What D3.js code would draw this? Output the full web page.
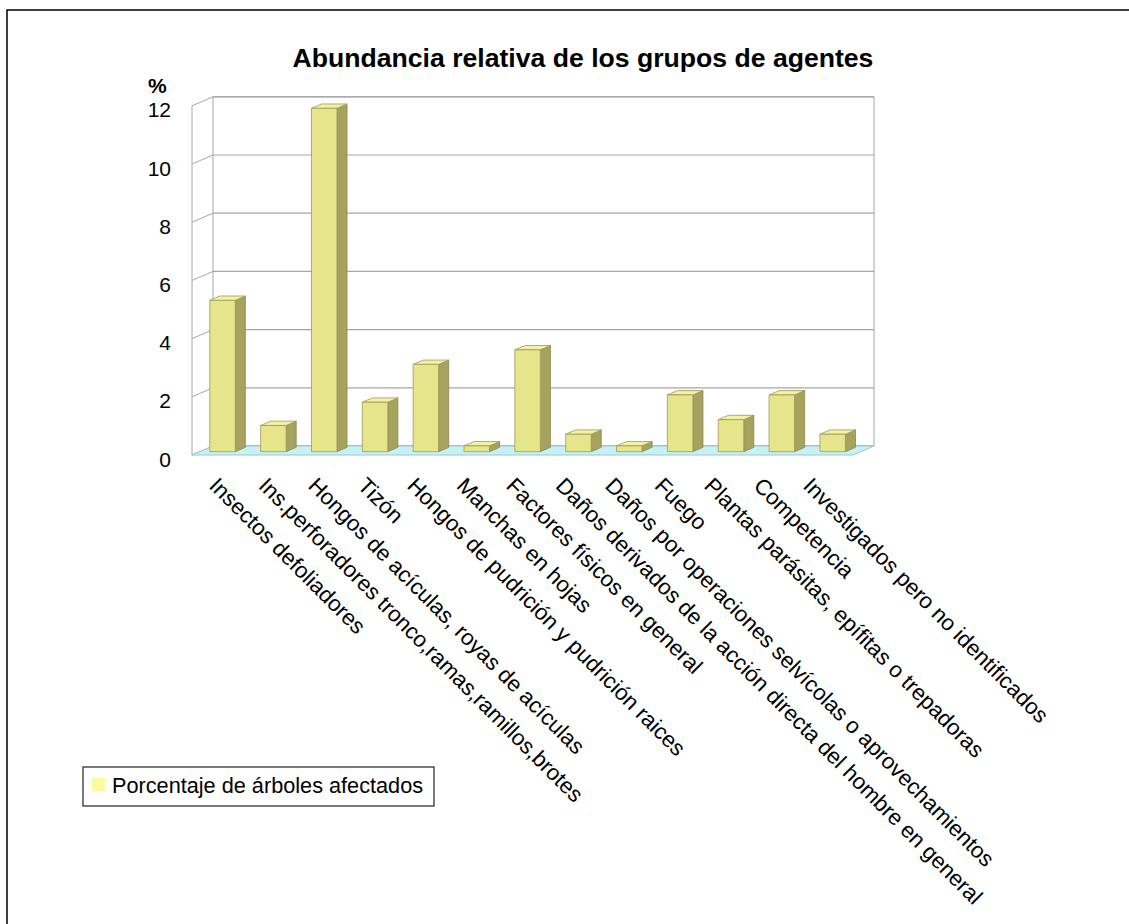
<!DOCTYPE html>
<html>
<head>
<meta charset="utf-8">
<script src="https://cdn.jsdelivr.net/npm/d3@7"></script>
<style>
  html, body { margin: 0; padding: 0; background: #fff; overflow: hidden; }
  svg { display: block; font-family: "Liberation Sans", Arial, sans-serif; }
</style>
</head>
<body>
<svg id="chart" width="1129" height="924"></svg>
<script>
const title = "Abundancia relativa de los grupos de agentes";
const yUnit = "%";
const seriesName = "Porcentaje de árboles afectados";
const categories = [
  "Insectos defoliadores",
  "Ins.perforadores tronco,ramas,ramillos,brotes",
  "Hongos de acículas, royas de acículas",
  "Tizón",
  "Hongos de pudrición y pudrición raices",
  "Manchas en hojas",
  "Factores físicos en general",
  "Daños derivados de la acción directa del hombre en general",
  "Daños por operaciones selvícolas o aprovechamientos",
  "Fuego",
  "Plantas parásitas, epífitas o trepadoras",
  "Competencia",
  "Investigados pero no identificados"
];
const values = [5.2, 0.9, 11.8, 1.7, 3.0, 0.2, 3.5, 0.6, 0.2, 1.95, 1.1, 1.95, 0.6];
const yTicks = [0, 2, 4, 6, 8, 10, 12];

const svg = d3.select("#chart");

// outer frame (left and top edges visible)
svg.append("path").attr("d", "M7,930 L7,10 L1135,10")
  .attr("fill", "none").attr("stroke", "#000").attr("stroke-width", 1.5);

// geometry
const frontLeft = 192, frontRight = 853, baseY = 455;
const depth = [21, -9];
const y = d3.scaleLinear().domain([0, 12]).range([baseY, baseY - 12 * 29.1]);
const x = d3.scaleBand().domain(categories).range([frontLeft, frontRight]);
const P = (px, v, t) => [px + t * depth[0], y(v) + t * depth[1]];
const pts = arr => arr.map(p => p.join(",")).join(" ");

const g = svg.append("g");

// back wall
const wallColor = "#a6a6a6";
g.append("polygon")
  .attr("points", pts([P(frontLeft, 0, 1), P(frontLeft, 12, 1), P(frontRight, 12, 1), P(frontRight, 0, 1)]))
  .attr("fill", "#fff").attr("stroke", wallColor).attr("stroke-width", 1);

// gridlines on back wall + diagonal ticks to front axis
yTicks.forEach(v => {
  const a = P(frontLeft, v, 1), b = P(frontRight, v, 1);
  g.append("line").attr("x1", a[0]).attr("y1", a[1]).attr("x2", b[0]).attr("y2", b[1])
    .attr("stroke", wallColor).attr("stroke-width", 1.2);
  const f = P(frontLeft, v, 0);
  g.append("line").attr("x1", f[0]).attr("y1", f[1]).attr("x2", a[0]).attr("y2", a[1])
    .attr("stroke", wallColor).attr("stroke-width", 1);
});

// front vertical axis
g.append("line").attr("x1", frontLeft).attr("y1", y(0)).attr("x2", frontLeft).attr("y2", y(12))
  .attr("stroke", wallColor).attr("stroke-width", 1);

// floor
g.append("polygon")
  .attr("points", pts([P(frontLeft, 0, 0), P(frontLeft, 0, 1), P(frontRight, 0, 1), P(frontRight, 0, 0)]))
  .attr("fill", "#c6f1f6").attr("stroke", "#9fc6cc").attr("stroke-width", 1);

// bars
const barOff = 10, barW = 25.5, t0 = 0.37, t1 = 0.85;
const bars = g.selectAll("g.bar").data(categories.map((c, i) => ({ c, v: values[i] }))).enter()
  .append("g").attr("class", "bar");
bars.each(function (d) {
  const sel = d3.select(this);
  const xl = x(d.c) + barOff, xr = xl + barW;
  sel.append("polygon")
    .attr("points", pts([P(xr, 0, t0), P(xr, d.v, t0), P(xr, d.v, t1), P(xr, 0, t1)]))
    .attr("fill", "#a6a35f").attr("stroke", "#8a874e").attr("stroke-width", 0.8);
  sel.append("polygon")
    .attr("points", pts([P(xl, d.v, t0), P(xr, d.v, t0), P(xr, d.v, t1), P(xl, d.v, t1)]))
    .attr("fill", "#f3f1a6").attr("stroke", "#9c9958").attr("stroke-width", 0.8);
  sel.append("polygon")
    .attr("points", pts([P(xl, 0, t0), P(xl, d.v, t0), P(xr, d.v, t0), P(xr, 0, t0)]))
    .attr("fill", "#e7e58b").attr("stroke", "#9c9958").attr("stroke-width", 0.8);
});

// y tick labels
svg.selectAll("text.ytick").data(yTicks).enter().append("text")
  .attr("class", "ytick")
  .attr("x", 171).attr("y", d => y(d) + 11.5)
  .attr("text-anchor", "end").attr("font-size", 21).attr("fill", "#000")
  .text(d => d);

// unit label
svg.append("text").attr("x", 148).attr("y", 93).attr("font-size", 21).attr("font-weight", "bold")
  .text(yUnit);

// title
svg.append("text").attr("x", 583).attr("y", 67).attr("text-anchor", "middle")
  .attr("font-size", 26.6).attr("font-weight", "bold").text(title);

// category labels (rotated 45°)
const labelX = d3.scaleLinear().domain([0, categories.length - 1]).range([208, 208 + 12 * 49.5]);
svg.selectAll("text.cat").data(categories).enter().append("text")
  .attr("class", "cat")
  .attr("transform", (d, i) => `translate(${labelX(i)},487) rotate(45)`)
  .attr("font-size", 22.2).attr("fill", "#000")
  .text(d => d);

// legend
const lg = svg.append("g");
lg.append("rect").attr("x", 83).attr("y", 767).attr("width", 351).attr("height", 39)
  .attr("fill", "#fff").attr("stroke", "#222").attr("stroke-width", 1.2);
lg.append("rect").attr("x", 92).attr("y", 778).attr("width", 13).attr("height", 13)
  .attr("fill", "#fbfa9e");
lg.append("text").attr("x", 112).attr("y", 793).attr("font-size", 21.7).text(seriesName);
</script>
</body>
</html>
